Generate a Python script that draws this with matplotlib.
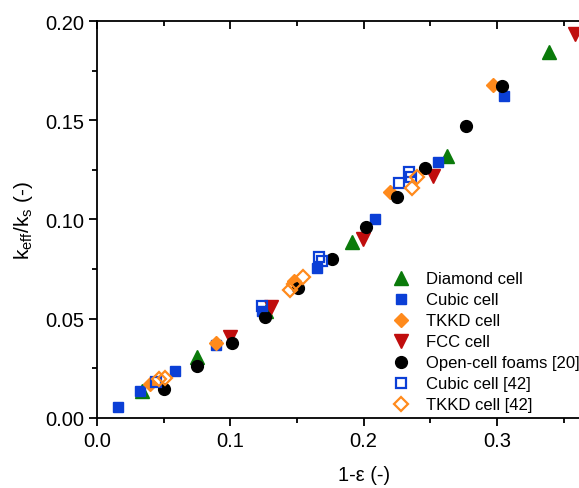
import matplotlib
matplotlib.use("Agg")
import matplotlib.pyplot as plt
from matplotlib.ticker import MultipleLocator

plt.rcParams['font.family'] = ['Liberation Sans', 'DejaVu Sans']
plt.rcParams['mathtext.fontset'] = 'custom'
plt.rcParams['mathtext.rm'] = 'Liberation Sans'
plt.rcParams['mathtext.it'] = 'Liberation Sans'

# data
diamond_x = [0.0340, 0.0750, 0.1268, 0.1910, 0.2623, 0.3393]
diamond_y = [0.0136, 0.0304, 0.0540, 0.0887, 0.1318, 0.1842]

cubic_x = [0.0155, 0.0325, 0.0585, 0.0890, 0.1240, 0.1648, 0.2085, 0.2555, 0.3053]
cubic_y = [0.0055, 0.0135, 0.0234, 0.0367, 0.0540, 0.0753, 0.1002, 0.1290, 0.1623]

tkkd_x = [0.0400, 0.0890, 0.1480, 0.2198, 0.2968]
tkkd_y = [0.0168, 0.0377, 0.0690, 0.1136, 0.1679]

fcc_x = [0.1000, 0.1305, 0.1998, 0.2518, 0.3585]
fcc_y = [0.0405, 0.0557, 0.0901, 0.1217, 0.1934]

foam_x = [0.0505, 0.0753, 0.1010, 0.1260, 0.1510, 0.1760, 0.2015, 0.2253, 0.2460, 0.2765, 0.3035]
foam_y = [0.0143, 0.0259, 0.0377, 0.0509, 0.0652, 0.0800, 0.0960, 0.1111, 0.1257, 0.1469, 0.1674]

cubic42_x = [0.0440, 0.1235, 0.1668, 0.1685, 0.2265, 0.2343, 0.2353]
cubic42_y = [0.0180, 0.0565, 0.0809, 0.0792, 0.1183, 0.1240, 0.1215]

tkkd42_x = [0.0465, 0.0510, 0.1448, 0.1480, 0.1548, 0.2360, 0.2398]
tkkd42_y = [0.0195, 0.0200, 0.0645, 0.0674, 0.0708, 0.1158, 0.1212]

green = "#0a7a0a"
blue = "#0b3fd6"
orange = "#ff8a1c"
red = "#c00d0d"

fig = plt.figure(figsize=(5.79, 4.89), dpi=100)
ax = fig.add_axes([0.1675, 0.1438, 0.921, 0.8112])

ax.plot(diamond_x, diamond_y, ls="none", marker="^", ms=10, color=green, label="Diamond cell")
ax.plot(cubic_x, cubic_y, ls="none", marker="s", ms=7.5, color=blue, label="Cubic cell")
ax.plot(tkkd_x, tkkd_y, ls="none", marker="D", ms=7, color=orange, label="TKKD cell")
ax.plot(fcc_x, fcc_y, ls="none", marker="v", ms=10, color=red, label="FCC cell")
ax.plot(foam_x, foam_y, ls="none", marker="o", ms=8.5, color="black", label="Open-cell foams [20]")
ax.plot(cubic42_x, cubic42_y, ls="none", marker="s", ms=7.5, mfc="none", mec=blue, mew=1.6,
        label="Cubic cell [42]")
ax.plot(tkkd42_x, tkkd42_y, ls="none", marker="D", ms=7, mfc="none", mec=orange, mew=1.6,
        label="TKKD cell [42]")

ax.set_xlim(0, 0.4)
ax.set_ylim(0, 0.2)
ax.xaxis.set_minor_locator(MultipleLocator(0.05))
ax.yaxis.set_minor_locator(MultipleLocator(0.025))
ax.set_xticks([0.0, 0.1, 0.2, 0.3])
ax.set_xticklabels(["0.0", "0.1", "0.2", "0.3"])
ax.set_yticks([0.0, 0.05, 0.1, 0.15, 0.2])
ax.set_yticklabels(["0.00", "0.05", "0.10", "0.15", "0.20"])

for s in ax.spines.values():
    s.set_linewidth(1.3)
ax.tick_params(which="both", direction="out", width=1.3, labelsize=14.5)
ax.tick_params(which="major", length=6)
ax.tick_params(which="minor", length=3.5)
ax.tick_params(axis="x", which="both", top=True, labeltop=False)
# top ticks point down into the plot
for tick in ax.xaxis.get_major_ticks() + ax.xaxis.get_minor_ticks():
    tick.tick2line.set_marker(3)

ax.set_xlabel("1-ε (-)", fontsize=14.5, labelpad=11)
ax.set_ylabel(r"k$_\mathrm{eff}$/k$_\mathrm{s}$ (-)", fontsize=15, labelpad=7)

ax.legend(loc="upper left", bbox_to_anchor=(393 / 579, 1 - 272.5 / 489), bbox_transform=fig.transFigure,
          frameon=False, fontsize=12, handlelength=1.0, handletextpad=1.0, labelspacing=0.36,
          borderaxespad=0, borderpad=0)

fig.savefig("out.png", dpi=100)
